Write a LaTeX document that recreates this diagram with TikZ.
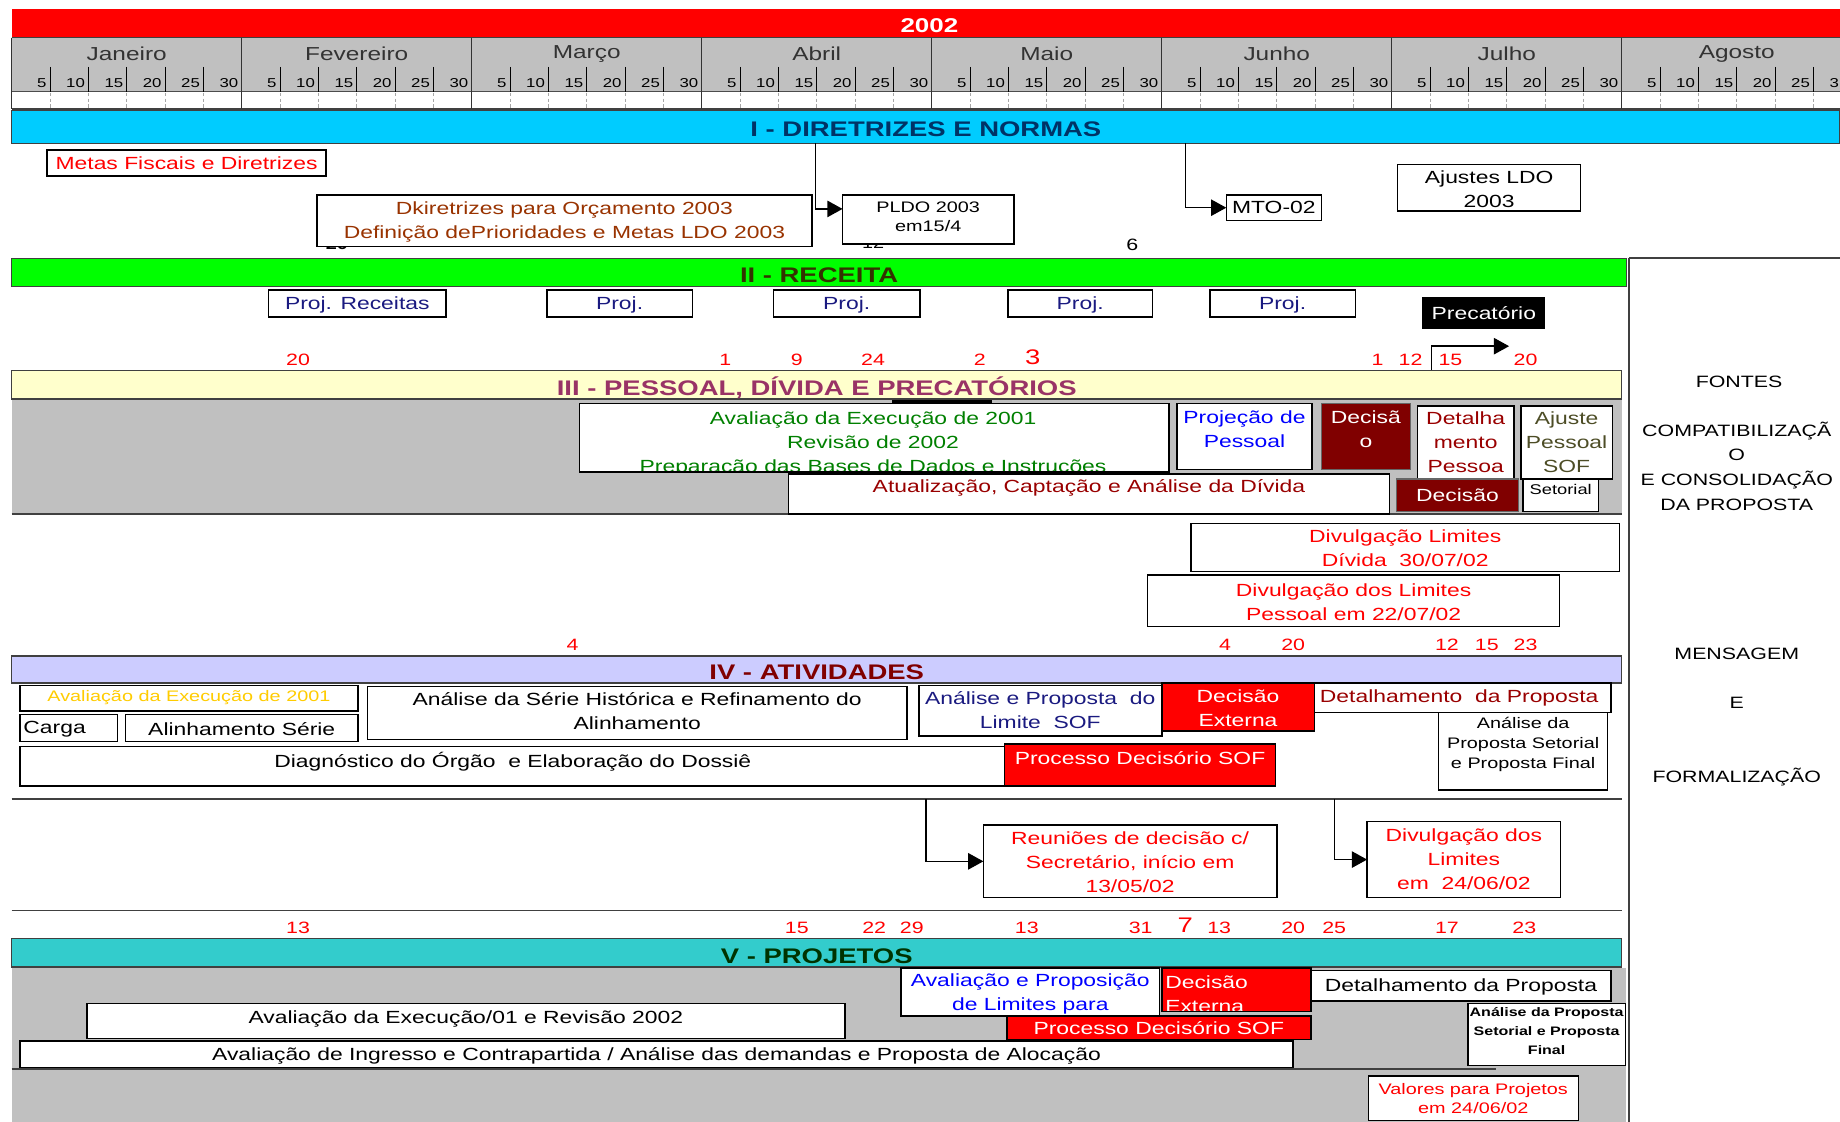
\documentclass[tikz,border=0pt]{standalone}
\usepackage{fontspec}
\setmainfont[FakeStretch=1.3]{Liberation Sans}
\usetikzlibrary{arrows.meta}

\definecolor{yearred}{HTML}{FF0000}
\definecolor{hdrgray}{HTML}{C0C0C0}
\definecolor{barblue}{HTML}{00CCFF}
\definecolor{bargreen}{HTML}{00FF00}
\definecolor{baryellow}{HTML}{FFFFCC}
\definecolor{barlav}{HTML}{CCCCFF}
\definecolor{barteal}{HTML}{33CCCC}
\definecolor{navytxt}{HTML}{003366}
\definecolor{olivetxt}{HTML}{333300}
\definecolor{plumt}{HTML}{993366}
\definecolor{maroont}{HTML}{800000}
\definecolor{darkgreent}{HTML}{003300}
\definecolor{brownt}{HTML}{993300}
\definecolor{okgreen}{HTML}{008000}
\definecolor{navyt}{HTML}{1A1A80}
\definecolor{goldt}{HTML}{FFCC00}
\definecolor{dkolive}{HTML}{4D4D26}
\definecolor{deepred}{HTML}{990000}
\definecolor{maroonfill}{HTML}{800000}

\newcommand\fs[2]{\fontsize{#1}{#2}\selectfont}
\newcommand\curbox{}
% box from (x1,y1) to (x2,y2) plus its text node
\newcommand\gbox[8]{%
  \pgfmathsetmacro\gbw{(#4)-(#2)}%
  \pgfmathsetmacro\gbh{(#5)-(#3)}%
  \node[#6, minimum width=\gbw pt, minimum height=\gbh pt] (#1) at ({((#2)+(#4))/2},{((#3)+(#5))/2}) {};%
  \renewcommand\curbox{#1}%
  \node[at={(#1.center)}, align=center, txt, #7] (#1-t) {#8};%
}

\begin{document}
\begin{tikzpicture}[x=1pt, y=-1pt,
  every node/.style={inner sep=0pt, outer sep=0pt},
  txt/.style={font=\fs{15}{20.5}},
  hdr/.style={font=\bfseries\fs{18}{20}, yshift=-2.5pt},
  taskbox/.style={draw=black, line width=1.3pt, fill=white},
  redbox/.style={draw=black, line width=1.3pt, fill=yearred},
  maroonbox/.style={draw=black!60, line width=1.3pt, fill=maroonfill},
  secbar/.style={draw=black!75, line width=1pt},
  rednum/.style={text=yearred, font=\fs{14}{16}, yshift=-1.5pt},
  panel/.style={font=\fs{14}{16}},
  conn/.style={line width=1.2pt, -{Triangle[length=13pt, width=14pt]}},
  rule/.style={draw=black!75, line width=1.2pt},
  topin/.style={anchor=north, at={(\curbox.north)}, yshift=-#1},
  topin/.default=6pt,
  leftin/.style={anchor=west, at={(\curbox.west)}, xshift=#1},
  leftin/.default=4pt,
]
\fill[white] (0,0) rectangle (1568,956);
\useasboundingbox (0,0) rectangle (1568,956);

% ---------- calendar header ----------
\fill[yearred] (10,8) rectangle (1568,32);
\node[text=white, font=\bfseries\fs{17}{20}] (year) at (792,21.5) {2002};
\fill[hdrgray] (10,32) rectangle (1568,78);
\draw[rule] (10,32) -- (1568,32);
\draw[line width=0.8pt, black!70] (10,78) -- (1568,78);
\draw[rule] (10,93) -- (1568,93);
\foreach \m/\last [count=\i from 0] in {Janeiro/30, Fevereiro/30, Março/30, Abril/30, Maio/30, Junho/30, Julho/30, Agosto/31} {
  \pgfmathsetmacro\mx{10+196*\i}
  \node[font=\fs{16}{18}, text=black!80] (mon\i) at (\mx+98,46) {\m};
  \draw[line width=1pt, black!80] (\mx,32) -- (\mx,93);
  \foreach \d [count=\k] in {5,10,15,20,25,\last} {
    \pgfmathsetmacro\tx{\mx+196/6*\k}
    \draw[line width=0.9pt] (\tx,57) -- (\tx,78);
    \node[font=\fs{11}{12}, anchor=east] (day\i-\k) at (\tx-3,70.5) {\d};
    \draw[densely dashed, black!35, line width=0.5pt] (\tx,79) -- (\tx,92);
  }
}

% ---------- I - DIRETRIZES E NORMAS ----------
\gbox{secI}{10}{94}{1568}{122}{secbar, fill=barblue}{hdr, text=navytxt}{I - DIRETRIZES E NORMAS}
\node[font=\bfseries\fs{13}{14}] (hid20) at (287,208) {20};
\node[font=\fs{13}{14}] (hid12) at (744,207) {12};
\gbox{metas}{40}{128}{278}{150}{taskbox}{text=yearred}{Metas Fiscais e Diretrizes}
\gbox{dkir}{270}{166}{692}{210}{taskbox}{text=brownt, yshift=-1pt}{Dkiretrizes para Orçamento 2003\\Definição dePrioridades e Metas LDO 2003}
\gbox{pldo}{718}{166}{864}{208}{taskbox}{topin=6pt, font=\fs{13}{16}}{PLDO 2003\\em15/4}
\gbox{mto}{1045}{166}{1126}{188}{taskbox}{}{MTO-02}
\gbox{ajldo}{1191}{140}{1347}{180}{taskbox}{yshift=-1pt}{Ajustes LDO\\2003}
\node[font=\fs{14}{16}] (six) at (965,209) {6};
\coordinate (fromI-a) at (695,122);
\coordinate (fromI-b) at (1010,122);
\draw[conn] (fromI-a) |- (pldo.173);
\draw[conn] (fromI-b) |- (mto.west);

% ---------- II - RECEITA ----------
\gbox{secII}{10}{220}{1386}{244}{secbar, fill=bargreen}{hdr, text=olivetxt}{II - RECEITA}
\gbox{projrec}{229}{247}{380}{270}{taskbox}{text=navyt, yshift=-1pt}{Proj. Receitas}
\gbox{proj2}{466}{247}{590}{270}{taskbox}{text=navyt, yshift=-1pt}{Proj.}
\gbox{proj3}{659}{247}{784}{270}{taskbox}{text=navyt, yshift=-1pt}{Proj.}
\gbox{proj4}{859}{247}{982}{270}{taskbox}{text=navyt, yshift=-1pt}{Proj.}
\gbox{proj5}{1031}{247}{1155}{270}{taskbox}{text=navyt, yshift=-1pt}{Proj.}
\gbox{prec}{1212}{253}{1317}{280}{fill=black}{text=white}{Precatório}
\foreach \x/\t [count=\i] in {254/20, 618/1, 679/9, 744/24, 835/2, 1174/1, 1202/12, 1236/15, 1300/20}
  \node[rednum] (rowa\i) at (\x,305) {\t};
\node[rednum, font=\fs{18}{20}] (rowa-three) at (880,303) {3};
\coordinate (prec-a) at (1220,316);
\coordinate (prec-b) at (1286,295);
\draw[conn] (prec-a) |- (prec-b);

% ---------- III - PESSOAL, DÍVIDA E PRECATÓRIOS ----------
\gbox{secIII}{10}{316}{1382}{340}{secbar, fill=baryellow}{hdr, text=plumt}{III - PESSOAL, DÍVIDA E PRECATÓRIOS}
\fill[hdrgray] (10,340.5) rectangle (1382,438);
\fill[black] (760,340.5) rectangle (845,345);
\draw[rule] (10,438) -- (1382,438);
\node[taskbox, minimum width=502pt, minimum height=58pt] (avexec) at (745,373) {};
\begin{scope}
  \clip (495,345) rectangle (995,401);
  \node[txt, text=okgreen, align=center, anchor=north] (avexec-t) at (744,350.5) {Avaliação da Execução de 2001\\Revisão de 2002\\Preparação das Bases de Dados e Instruções};
\end{scope}
\gbox{projpes}{1003}{344}{1118}{400}{taskbox}{topin, text=blue}{Projeção de\\Pessoal}
\gbox{decis1}{1126}{344}{1202}{400}{maroonbox}{topin, text=white}{Decisã\\o}
\gbox{detpes}{1208}{346}{1290}{408}{taskbox}{topin=5pt, text=deepred}{Detalha\\mento\\Pessoa}
\gbox{ajpes}{1296}{346}{1374}{408}{taskbox}{topin=5pt, text=dkolive}{Ajuste\\Pessoal\\SOF}
\gbox{atual}{672}{404}{1184}{438}{taskbox}{topin=5pt, text=deepred}{Atualização, Captação e Análise da Dívida}
\gbox{decis2}{1190}{408}{1294}{436}{maroonbox}{text=white}{Decisão}
\gbox{setor}{1298}{408}{1362}{436}{taskbox}{topin=5pt, font=\fs{12}{14}}{Setorial}

\gbox{divdiv}{1015}{446}{1380}{487}{taskbox}{text=yearred, yshift=-1pt}{Divulgação Limites\\Dívida~~30/07/02}
\gbox{divpes}{978}{490}{1329}{534}{taskbox}{text=yearred, yshift=-1pt}{Divulgação dos Limites\\Pessoal em 22/07/02}
\foreach \x/\t [count=\i] in {488/4, 1044/4, 1102/20, 1233/12, 1267/15, 1300/23}
  \node[rednum] (rowb\i) at (\x,548) {\t};

% ---------- IV - ATIVIDADES ----------
\gbox{secIV}{10}{559}{1382}{582}{secbar, fill=barlav}{hdr, text=maroont}{IV - ATIVIDADES}
\gbox{avex01}{17}{584}{305}{606}{taskbox}{topin=4pt, text=goldt, font=\fs{13}{15}}{Avaliação da Execução de 2001}
\gbox{carga}{17}{609}{100}{632}{taskbox}{leftin=3pt, yshift=-1pt}{Carga}
\gbox{alin}{107}{609}{305}{632}{taskbox}{yshift=-1pt}{Alinhamento Série}
\gbox{serie}{313}{585}{773}{630}{taskbox}{topin=5pt}{Análise da Série Histórica e Refinamento do\\Alinhamento}
\gbox{anprop}{783}{584}{990}{627}{taskbox}{topin=5pt, text=navyt}{Análise e Proposta~~do\\Limite~~SOF}
\gbox{decext}{990}{582}{1120}{623}{redbox}{topin=5.5pt, text=white}{Decisão\\Externa}
\gbox{detprop}{1120}{582}{1373}{607}{taskbox}{text=deepred, xshift=-3pt}{Detalhamento~~da Proposta}
\gbox{anset}{1226}{607}{1370}{673}{taskbox}{topin=4pt, font=\fs{13}{17}}{Análise da\\Proposta Setorial\\e Proposta Final}
\gbox{diag}{17}{636}{857}{670}{taskbox}{topin=5pt}{Diagnóstico do Órgão~~e Elaboração do Dossiê}
\gbox{procsof}{856}{634}{1087}{670}{redbox}{topin=6.5pt, text=white}{Processo Decisório SOF}
\draw[rule] (10,681) -- (1382,681);
\gbox{reun}{838}{703}{1088}{765}{taskbox}{text=yearred, yshift=-1pt}{Reuniões de decisão c/\\Secretário, início em\\13/05/02}
\gbox{divlim}{1165}{700}{1330}{765}{taskbox}{text=yearred}{Divulgação dos\\Limites\\em~~24/06/02}
\coordinate (fromIV-a) at (789,681);
\coordinate (fromIV-b) at (1137,681);
\draw[conn] (fromIV-a) |- (reun.west);
\draw[conn] (fromIV-b) |- (divlim.west);
\draw[rule] (10,776) -- (1382,776);
\foreach \x/\t [count=\i] in {254/13, 679/15, 745/22, 777/29, 875/13, 972/31, 1039/13, 1102/20, 1137/25, 1233/17, 1299/23}
  \node[rednum] (rowc\i) at (\x,789) {\t};
\node[rednum, font=\fs{18}{20}] (rowc-seven) at (1010,787) {7};

% ---------- V - PROJETOS ----------
\gbox{secV}{10}{800}{1382}{824}{secbar, fill=barteal}{hdr, text=darkgreent}{V - PROJETOS}
\fill[hdrgray] (10,824.5) rectangle (1386,956);
\gbox{avprop}{768}{825}{988}{866}{taskbox}{topin=5pt, text=blue}{Avaliação e Proposição\\de Limites para}
\node[redbox, minimum width=127pt, minimum height=37pt] (decext2) at (1053.5,843.5) {};
\begin{scope}
  \clip (991,826) rectangle (1116,861);
  \node[txt, text=white, align=left, anchor=north west] (decext2-t) at (993,831.5) {Decisão\\Externa};
\end{scope}
\gbox{detprop2}{1117}{827}{1373}{853}{taskbox}{yshift=-1pt}{Detalhamento da Proposta}
\gbox{avexrev}{74}{855}{720}{885}{taskbox}{topin=6pt}{Avaliação da Execução/01 e Revisão 2002}
\gbox{procsof2}{858}{866}{1117}{886}{redbox}{text=white}{Processo Decisório SOF}
\gbox{ingresso}{17}{887}{1102}{910}{taskbox}{yshift=-1pt}{Avaliação de Ingresso e Contrapartida / Análise das demandas e Proposta de Alocação}
\gbox{anset2}{1251}{855}{1385}{908}{taskbox}{topin=3.5pt, font=\bfseries\fs{10.5}{16}}{Análise da Proposta\\Setorial e Proposta\\Final}
\draw[rule] (10,911) -- (1275,911);
\gbox{valores}{1166}{917}{1345}{955}{taskbox}{font=\fs{13}{16}, text=yearred}{Valores para Projetos\\em 24/06/02}

% ---------- right-hand column ----------
\draw[rule] (1388,220) -- (1568,220);
\draw[rule] (1388,220) -- (1388,956);
\node[panel] (pfontes) at (1482,325) {FONTES};
\node[panel] (pcompat) at (1480,367) {COMPATIBILIZAÇÃ};
\node[panel] (pcompo) at (1480,388) {O};
\node[panel] (pconsol) at (1480,409) {E CONSOLIDAÇÃO};
\node[panel] (pprop) at (1480,430) {DA PROPOSTA};
\node[panel] (pmens) at (1480,557) {MENSAGEM};
\node[panel] (pe) at (1480,599) {E};
\node[panel] (pformal) at (1480,662) {FORMALIZAÇÃO};
\end{tikzpicture}
\end{document}
